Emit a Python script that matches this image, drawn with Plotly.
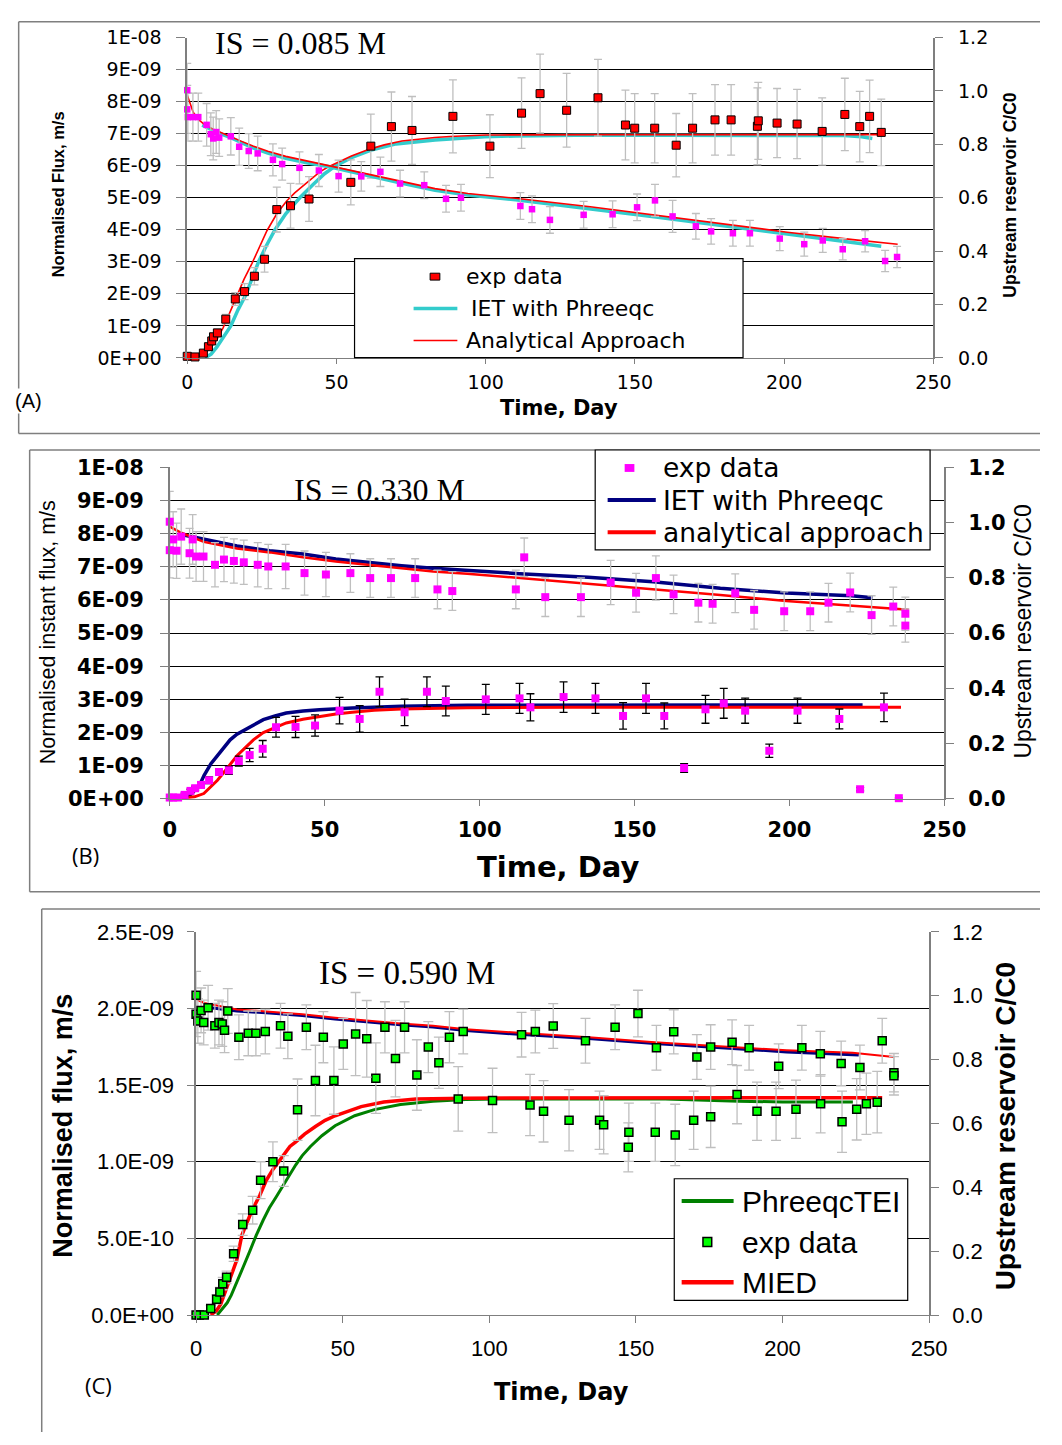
import numpy as np
import plotly.graph_objects as go

W, H = 1062, 1445

# ---------------- Panel A (IS = 0.085 M) ----------------
A_flux_day = [0, 2.6, 5.4, 7.1, 8.2, 8.8, 10.1, 12.9, 16.1, 19.2, 22.5, 25.9, 30.0, 34.6, 40.8, 54.8, 61.5, 68.4, 75.3, 89.0,
              101.4, 112.0, 118.2, 127.1, 137.6, 146.8, 149.9, 156.6, 163.8, 169.3, 176.8, 182.2, 191.0, 191.3, 197.6, 204.3,
              212.7, 220.3, 225.3, 228.6, 232.5]
A_flux_val = [0.05, 0.03, 0.15, 0.35, 0.53, 0.66, 0.78, 1.21, 1.84, 2.07, 2.55, 3.08, 4.63, 4.75, 4.96, 5.48, 6.61, 7.22, 7.10, 7.54,
              6.61, 7.64, 8.25, 7.73, 8.12, 7.27, 7.17, 7.17, 6.64, 7.17, 7.43, 7.43, 7.23, 7.40, 7.33, 7.30,
              7.07, 7.60, 7.22, 7.54, 7.04]
A_flux_err = [0.03, 0.03, 0.05, 0.08, 0.1, 0.1, 0.12, 0.15, 0.2, 0.25, 0.27, 0.4, 0.7, 0.7, 0.7, 0.7, 1.0, 1.08, 1.06, 1.14,
              0.98, 1.1, 1.23, 1.15, 1.2, 1.09, 1.08, 1.08, 0.99, 1.08, 1.1, 1.1, 1.2, 1.2, 1.08, 1.08,
              1.05, 1.13, 1.1, 1.13, 1.04]
A_cc_day = [0, 0, 0.2, 1.9, 3.7, 6.5, 7.9, 8.7, 9.7, 10.7, 14.6, 17.4, 20.6, 23.6, 28.7, 31.8, 37.6, 44.1, 50.7, 58.3,
            64.7, 71.3, 79.4, 86.7, 91.7, 111.6, 115.5, 121.5, 132.8, 142.5, 150.7, 156.7, 162.6, 170.4, 175.5, 182.8,
            188.5, 198.5, 206.7, 212.9, 219.6, 227.1, 233.8, 237.8]
A_cc_val = [1.003, 0.931, 0.902, 0.902, 0.902, 0.873, 0.838, 0.822, 0.846, 0.825, 0.830, 0.791, 0.775, 0.766, 0.742, 0.726,
            0.712, 0.702, 0.681, 0.680, 0.697, 0.653, 0.647, 0.596, 0.600, 0.569, 0.557, 0.517, 0.536, 0.538, 0.564, 0.590,
            0.530, 0.493, 0.474, 0.467, 0.467, 0.447, 0.426, 0.440, 0.407, 0.437, 0.363, 0.378]
A_cc_err = [0.1, 0.09, 0.09, 0.09, 0.09, 0.08, 0.08, 0.08, 0.08, 0.07, 0.07, 0.07, 0.065, 0.065, 0.06, 0.06, 0.06, 0.06, 0.06, 0.055,
            0.055, 0.05, 0.05, 0.05, 0.05, 0.05, 0.05, 0.05, 0.05, 0.05, 0.05, 0.06, 0.06, 0.048, 0.048, 0.048, 0.048, 0.045,
            0.045, 0.045, 0.04, 0.04, 0.04, 0.04]
A_ana_flux_day = [0, 3, 5, 8, 10, 12, 14, 16.8, 19, 21.7, 24, 26.7, 30, 33.3, 36, 38.8, 41.5, 44.3, 47, 49.8, 55, 60.9, 66,
                  71.9, 77, 82.9, 88, 93.9, 100, 105, 120, 140, 160, 180, 200, 220, 233]
A_ana_flux_val = [0, 0.01, 0.07, 0.33, 0.59, 0.94, 1.36, 1.97, 2.45, 2.95, 3.4, 3.97, 4.5, 4.9, 5.15, 5.38, 5.6, 5.8, 5.95,
                  6.08, 6.3, 6.51, 6.65, 6.77, 6.83, 6.88, 6.91, 6.94, 6.96, 6.96, 6.97, 6.97, 6.97, 6.97, 6.97, 6.97, 6.97]
A_iet_flux_day = [6, 8, 10, 12, 14.6, 17, 19.8, 22, 23.9, 26.5, 29.4, 33, 37.7, 42, 46, 49.8, 55, 62, 70, 83, 99.5, 110,
                  130, 160, 190, 220, 226, 229.5]
A_iet_flux_val = [0, 0.12, 0.35, 0.65, 1.0, 1.5, 2.0, 2.55, 3.0, 3.5, 4.0, 4.5, 5.0, 5.4, 5.75, 6.0, 6.25, 6.5, 6.68, 6.8,
                  6.9, 6.93, 6.95, 6.95, 6.95, 6.94, 6.9, 6.85]
A_ana_cc_day = [0, 1, 2, 3.5, 6, 8, 11, 14.6, 18, 22, 27, 33, 40, 47.6, 55, 63, 72, 83, 94, 110, 135, 157, 179, 201, 223, 238]
A_ana_cc_val = [0.985, 0.95, 0.92, 0.895, 0.872, 0.86, 0.845, 0.83, 0.812, 0.794, 0.774, 0.755, 0.738, 0.722, 0.703, 0.682,
                0.66, 0.634, 0.616, 0.598, 0.566, 0.535, 0.503, 0.471, 0.443, 0.426]
A_iet_cc_day = [5, 8, 11, 14.6, 18, 22, 27, 33, 40, 47.6, 55, 63, 72, 83, 94, 110, 135, 157, 179, 201, 223, 232.5]
A_iet_cc_val = [0.872, 0.855, 0.84, 0.825, 0.806, 0.787, 0.767, 0.748, 0.731, 0.716, 0.697, 0.676, 0.654, 0.628, 0.61,
                0.592, 0.559, 0.528, 0.496, 0.464, 0.435, 0.418]

# ---------------- Panel B (IS = 0.330 M) ----------------
B_flux_day = [0, 1.1, 2.7, 4.8, 6.7, 8.2, 10.1, 12.7, 15.9, 19.1, 22.3, 25.8, 30.0, 34.3, 40.6, 46.9, 54.8, 61.3, 67.7, 75.8,
              83.0, 89.1, 102.0, 112.9, 116.4, 127.1, 137.4, 146.3, 153.7, 159.6, 166.0, 172.9, 178.8, 185.7, 193.5, 202.6,
              216.1, 222.8, 230.5, 235.3]
B_flux_val = [0.04, 0.04, 0.04, 0.12, 0.24, 0.32, 0.42, 0.56, 0.81, 0.86, 1.14, 1.32, 1.51, 2.16, 2.17, 2.21, 2.66, 2.41, 3.23,
              2.61, 3.23, 2.95, 3.00, 3.03, 2.76, 3.07, 3.03, 2.50, 3.03, 2.50, 0.93, 2.70, 2.88, 2.66, 1.45, 2.66, 2.41, 0.29,
              2.76, 0.02]
B_flux_err = [0.02, 0.02, 0.02, 0.05, 0.05, 0.06, 0.08, 0.1, 0.1, 0.12, 0.15, 0.2, 0.25, 0.3, 0.32, 0.32, 0.4, 0.4, 0.45, 0.4,
              0.45, 0.45, 0.45, 0.45, 0.41, 0.46, 0.45, 0.4, 0.45, 0.39, 0.13, 0.42, 0.45, 0.38, 0.2, 0.38, 0.3, 0.05, 0.43, 0.0]
B_cc_day = [0, 0, 1.1, 2.2, 3.7, 6.4, 7.4, 8.5, 10.9, 14.6, 17.5, 20.7, 23.9, 28.4, 31.8, 37.4, 43.5, 50.4, 58.3, 64.7,
            71.4, 79.2, 86.4, 91.2, 111.7, 114.4, 121.2, 132.7, 142.3, 150.5, 156.9, 162.6, 170.6, 175.2, 182.5, 188.6,
            198.3, 206.7, 212.6, 219.6, 226.5, 233.5, 237.4, 237.4]
B_cc_val = [1.003, 0.900, 0.939, 0.898, 0.949, 0.889, 0.939, 0.877, 0.877, 0.847, 0.866, 0.861, 0.856, 0.847, 0.841, 0.841,
            0.817, 0.812, 0.817, 0.799, 0.799, 0.799, 0.758, 0.752, 0.758, 0.874, 0.730, 0.730, 0.783, 0.746, 0.799, 0.740,
            0.710, 0.706, 0.744, 0.684, 0.679, 0.679, 0.710, 0.747, 0.665, 0.696, 0.670, 0.627]
B_cc_err = [0.11, 0.1, 0.1, 0.1, 0.1, 0.09, 0.09, 0.09, 0.09, 0.08, 0.08, 0.08, 0.08, 0.08, 0.08, 0.08, 0.08, 0.08, 0.07, 0.07,
            0.07, 0.07, 0.07, 0.07, 0.07, 0.07, 0.07, 0.07, 0.08, 0.07, 0.08, 0.07, 0.07, 0.07, 0.07, 0.07, 0.07, 0.07, 0.07,
            0.07, 0.07, 0.07, 0.06, 0.06]
B_iet_flux_day = [3, 5, 6.9, 8.5, 10.1, 11.1, 13.3, 15.5, 17.5, 19.5, 21.7, 24, 27, 30.2, 34, 37.6, 43, 48.3, 58.9, 74.8, 96,
                  130, 170, 200, 223.6]
B_iet_flux_val = [0, 0.04, 0.14, 0.3, 0.51, 0.71, 1.06, 1.32, 1.55, 1.78, 1.95, 2.07, 2.22, 2.39, 2.5, 2.59, 2.65, 2.69, 2.74,
                  2.79, 2.82, 2.83, 2.83, 2.83, 2.83]
B_ana_flux_day = [2, 5, 8, 11, 13, 15.4, 17.5, 19.6, 21.7, 23.9, 27, 30.2, 34, 37.6, 43, 48.3, 53.6, 58.9, 66, 74.8, 85, 96,
                  130, 170, 200, 236]
B_ana_flux_val = [0, 0.03, 0.06, 0.16, 0.35, 0.56, 0.8, 1.06, 1.3, 1.5, 1.78, 2.0, 2.16, 2.29, 2.4, 2.49, 2.56, 2.61, 2.67,
                  2.71, 2.73, 2.75, 2.76, 2.76, 2.76, 2.76]
B_iet_cc_day = [3.7, 11, 21.7, 32.3, 43, 53.6, 64, 74.8, 85, 96, 113, 135, 156, 177.7, 199, 220, 226.8]
B_iet_cc_val = [0.957, 0.939, 0.915, 0.898, 0.886, 0.868, 0.856, 0.844, 0.835, 0.826, 0.815, 0.802, 0.786, 0.762, 0.745,
                0.735, 0.728]
B_ana_cc_day = [0, 3.7, 11, 21.7, 32.3, 43, 53.6, 64, 74.8, 85, 96, 113, 135, 156, 177.7, 199, 220, 238.5]
B_ana_cc_val = [0.985, 0.963, 0.93, 0.906, 0.892, 0.874, 0.859, 0.847, 0.835, 0.823, 0.815, 0.799, 0.779, 0.761, 0.738,
                0.716, 0.70, 0.684]

# ---------------- Panel C (IS = 0.590 M) ----------------
C_flux_day = [0, 1.1, 2.8, 5.0, 7.0, 8.1, 9.1, 10.4, 12.8, 15.9, 19.3, 22.0, 26.2, 29.9, 34.6, 40.7, 47.0, 61.3, 75.3, 89.4,
              101.1, 113.9, 118.5, 127.2, 137.6, 139.0, 147.4, 147.6, 156.6, 163.4, 169.7, 175.5, 184.5, 191.3, 197.8, 204.6,
              213.0, 220.3, 225.3, 228.6, 232.3]
C_flux_val = [0.0, 0.0, 0.0, 0.043, 0.103, 0.15, 0.205, 0.246, 0.40, 0.59, 0.684, 0.88, 1.00, 0.94, 1.34, 1.53, 1.53, 1.545,
              1.566, 1.41, 1.40, 1.370, 1.329, 1.271, 1.271, 1.241, 1.094, 1.192, 1.192, 1.175, 1.271, 1.293, 1.438, 1.329,
              1.329, 1.342, 1.378, 1.261, 1.342, 1.378, 1.389]
C_flux_err = [0.01, 0.01, 0.01, 0.02, 0.03, 0.03, 0.04, 0.04, 0.05, 0.07, 0.09, 0.12, 0.13, 0.1, 0.2, 0.23, 0.22, 0.23, 0.23,
              0.21, 0.21, 0.2, 0.2, 0.2, 0.19, 0.19, 0.16, 0.19, 0.19, 0.2, 0.19, 0.2, 0.19, 0.19, 0.19, 0.19, 0.19, 0.2, 0.2,
              0.2, 0.2]
C_cc_day = [0, 0, 0.6, 1.7, 2.6, 4.1, 6.4, 7.8, 8.9, 9.7, 10.8, 14.6, 17.8, 20.4, 23.6, 28.8, 31.3, 37.6, 43.4, 50.2,
            54.4, 58.2, 64.4, 68.0, 71.1, 79.2, 82.8, 86.4, 91.1, 111.0, 115.7, 121.8, 132.8, 142.9, 150.7, 157.0, 162.9,
            170.8, 175.5, 182.8, 188.6, 198.7, 206.6, 212.9, 220.0, 226.4, 234.0, 238.0, 238.0]
C_cc_val = [1.001, 0.942, 0.921, 0.954, 0.916, 0.962, 0.906, 0.916, 0.911, 0.892, 0.952, 0.870, 0.882, 0.882, 0.888, 0.906,
            0.873, 0.901, 0.870, 0.849, 0.880, 0.865, 0.901, 0.803, 0.901, 0.839, 0.790, 0.870, 0.888, 0.878, 0.888, 0.905,
            0.859, 0.901, 0.944, 0.837, 0.887, 0.808, 0.839, 0.854, 0.837, 0.779, 0.837, 0.818, 0.788, 0.775, 0.859, 0.759,
            0.749]
C_cc_err = [0.075, 0.07, 0.07, 0.07, 0.07, 0.07, 0.07, 0.07, 0.07, 0.07, 0.07, 0.07, 0.07, 0.07, 0.07, 0.07, 0.07, 0.07,
            0.08, 0.08, 0.13, 0.12, 0.08, 0.12, 0.08, 0.08, 0.08, 0.08, 0.07, 0.07, 0.067, 0.07, 0.07, 0.07, 0.073, 0.07,
            0.069, 0.07, 0.07, 0.07, 0.07, 0.07, 0.07, 0.07, 0.07, 0.07, 0.07, 0.06, 0.06]
C_mied_flux_day = [5, 7, 8.4, 10, 11.7, 13.9, 15.6, 17.2, 19, 21.7, 24, 26.2, 29.5, 32, 34, 37, 40.7, 44, 47.4, 52, 56.3, 64,
                   75, 92, 120, 160, 200, 234]
C_mied_flux_val = [0, 0.03, 0.07, 0.15, 0.25, 0.36, 0.52, 0.6, 0.68, 0.78, 0.88, 0.95, 1.04, 1.1, 1.13, 1.18, 1.23, 1.27,
                   1.3, 1.33, 1.36, 1.39, 1.41, 1.415, 1.417, 1.418, 1.418, 1.418]
C_tei_flux_day = [7.2, 9, 10.6, 12, 13.9, 16, 18.4, 20.5, 22.9, 25, 27.3, 29.5, 31.8, 34, 36.2, 39, 42.9, 47.4, 54.1, 60.8,
                  69.7, 80.8, 92, 103, 130, 160, 185, 200, 215, 224]
C_tei_flux_val = [0, 0.04, 0.08, 0.13, 0.21, 0.31, 0.42, 0.52, 0.62, 0.7, 0.77, 0.84, 0.91, 0.98, 1.04, 1.1, 1.17, 1.235,
                  1.3, 1.34, 1.374, 1.395, 1.406, 1.41, 1.41, 1.41, 1.395, 1.39, 1.39, 1.39]
C_mied_cc_day = [0, 2.8, 8.4, 13.9, 25.1, 36.2, 47.4, 58.5, 69.7, 80.8, 92, 110, 133.9, 156.4, 178.9, 201.4, 223.9, 238]
C_mied_cc_val = [0.988, 0.977, 0.967, 0.957, 0.95, 0.942, 0.931, 0.921, 0.913, 0.906, 0.895, 0.884, 0.870, 0.854, 0.841,
                 0.829, 0.821, 0.808]
C_iet_cc_day = [5, 13.9, 25.1, 36.2, 47.4, 58.5, 69.7, 80.8, 92, 110, 133.9, 156.4, 178.9, 201.4, 226]
C_iet_cc_val = [0.962, 0.952, 0.946, 0.938, 0.927, 0.917, 0.909, 0.902, 0.891, 0.879, 0.866, 0.85, 0.836, 0.824, 0.814]

# Tick labels
A_flux_ticks = ["0E+00", "1E-09", "2E-09", "3E-09", "4E-09", "5E-09", "6E-09", "7E-09", "8E-09", "9E-09", "1E-08"]
C_flux_ticks = ["0.0E+00", "5.0E-10", "1.0E-09", "1.5E-09", "2.0E-09", "2.5E-09"]
day_ticks = [0, 50, 100, 150, 200, 250]
cc_ticks = [0.0, 0.2, 0.4, 0.6, 0.8, 1.0, 1.2]

NANO = 1e-9

# ---------------------------------------------------------------
def px(x):
    return x / W


def py(y):
    return 1 - y / H


fig = go.Figure()

ERRC = '#BFBFBF'
AXC = '#7F7F7F'


def add_line(x, y, xa, ya, color, width):
    fig.add_trace(go.Scatter(x=x, y=y, xaxis=xa, yaxis=ya, mode='lines',
                             line=dict(color=color, width=width), showlegend=False,
                             hoverinfo='skip', cliponaxis=False))


def add_pts(x, y, err, xa, ya, fill, size, olc, olw, errc, capw, symbol='square'):
    fig.add_trace(go.Scatter(x=x, y=y, xaxis=xa, yaxis=ya, mode='markers',
                             marker=dict(symbol=symbol, size=size, color=fill,
                                         line=dict(color=olc, width=olw)),
                             error_y=dict(type='data', array=err, color=errc, thickness=1.3, width=capw),
                             showlegend=False, cliponaxis=False))


def nano(v):
    return list(np.array(v) * NANO)


# Panel A
add_line(A_iet_flux_day, nano(A_iet_flux_val), 'x', 'y', '#33CCCC', 3.5)
add_line(A_ana_flux_day, nano(A_ana_flux_val), 'x', 'y', '#FF0000', 1.6)
add_pts(A_flux_day, nano(A_flux_val), nano(A_flux_err), 'x', 'y', '#FF0000', 8, 'black', 1, ERRC, 4)
add_line(A_iet_cc_day, A_iet_cc_val, 'x', 'y2', '#33CCCC', 3.5)
add_line(A_ana_cc_day, A_ana_cc_val, 'x', 'y2', '#FF0000', 1.6)
add_pts(A_cc_day, A_cc_val, A_cc_err, 'x', 'y2', '#FF00FF', 6.5, '#FF00FF', 0, ERRC, 4)

# Panel B
add_line(B_iet_flux_day, nano(B_iet_flux_val), 'x2', 'y3', '#000080', 3.5)
add_line(B_ana_flux_day, nano(B_ana_flux_val), 'x2', 'y3', '#FF0000', 3)
add_pts(B_flux_day, nano(B_flux_val), nano(B_flux_err), 'x2', 'y3', '#FF00FF', 8, '#FF00FF', 0, 'black', 4)
add_line(B_iet_cc_day, B_iet_cc_val, 'x2', 'y4', '#000080', 3.5)
add_line(B_ana_cc_day, B_ana_cc_val, 'x2', 'y4', '#FF0000', 2.5)
add_pts(B_cc_day, B_cc_val, B_cc_err, 'x2', 'y4', '#FF00FF', 8, '#FF00FF', 0, ERRC, 4)

# Panel C
add_line(C_tei_flux_day, nano(C_tei_flux_val), 'x3', 'y5', '#008000', 3)
add_line(C_mied_flux_day, nano(C_mied_flux_val), 'x3', 'y5', '#FF0000', 3.5)
add_pts(C_flux_day, nano(C_flux_val), nano(C_flux_err), 'x3', 'y5', '#00FF00', 8, 'black', 1.5, ERRC, 5)
add_line(C_iet_cc_day, C_iet_cc_val, 'x3', 'y6', '#000080', 3)
add_line(C_mied_cc_day, C_mied_cc_val, 'x3', 'y6', '#FF0000', 2)
add_pts(C_cc_day, C_cc_val, C_cc_err, 'x3', 'y6', '#00FF00', 8, 'black', 1.5, ERRC, 5)

DJ = 'DejaVu Sans'
AR = 'Liberation Sans, Arial, sans-serif'
TM = 'Liberation Serif, Times New Roman, serif'


def xax(dom, anchor, font, standoff, ticklen):
    return dict(domain=dom, anchor=anchor, range=[0, 250], tickvals=day_ticks, ticks='outside',
                ticklen=ticklen, tickcolor=AXC, tickwidth=1.2, showline=True, linecolor=AXC, linewidth=1.2,
                showgrid=False, zeroline=False, tickfont=font, ticklabelstandoff=standoff, fixedrange=True)


def yleft(dom, anchor, rng, vals, texts, font, standoff, ticklen):
    return dict(domain=dom, anchor=anchor, range=rng, tickvals=vals, ticktext=texts, ticks='outside',
                ticklen=ticklen, tickcolor=AXC, tickwidth=1.2, showline=True, linecolor=AXC, linewidth=1.5,
                showgrid=True, gridcolor='black', gridwidth=1, zeroline=False, tickfont=font,
                ticklabelstandoff=standoff)


def yright(over, anchor, font, standoff, ticklen):
    return dict(overlaying=over, anchor=anchor, side='right', range=[0, 1.2], tickvals=cc_ticks,
                tickformat='.1f', ticks='outside', ticklen=ticklen, tickcolor=AXC, tickwidth=1.2,
                showline=True, linecolor=AXC, linewidth=1.5, showgrid=False, zeroline=False,
                tickfont=font, ticklabelstandoff=standoff)


fA = dict(family=DJ, size=19, color='black')
fB = dict(family=DJ, size=21, color='black', weight='bold')
fC = dict(family=AR, size=22, color='black')

layout = dict(
    width=W, height=H, margin=dict(l=0, r=0, t=0, b=0),
    paper_bgcolor='white', plot_bgcolor='rgba(0,0,0,0)', showlegend=False,
    xaxis=xax([px(185.3), px(952.5)], 'y', fA, 2, 5),
    yaxis=yleft([py(352), py(26)], 'x', [0, 1e-8], [i * NANO for i in range(11)], A_flux_ticks, fA, 11, 9),
    yaxis2=yright('y', 'x', fA, 11, 8),
    xaxis2=xax([px(167.3), px(963.7)], 'y3', fB, 6, 6),
    yaxis3=yleft([py(800.7), py(463.3)], 'x2', [0, 1e-8], [i * NANO for i in range(11)], A_flux_ticks, fB, 12, 8),
    yaxis4=yright('y3', 'x2', fB, 10, 8),
    xaxis3=xax([px(194.4), px(948)], 'y5', fC, 6, 7),
    yaxis5=yleft([py(1326), py(936)], 'x3', [0, 2.5e-9], [i * 0.5 * NANO for i in range(6)], C_flux_ticks, fC, 9, 7),
    yaxis6=yright('y5', 'x3', fC, 9, 8),
)
fig.update_layout(**layout)

shapes = []
ann = []


def rect(x0, y0, x1, y1, line='#7F7F7F', lw=1.5, fill=None, layer='below'):
    shapes.append(dict(type='rect', xref='paper', yref='paper', x0=px(x0), x1=px(x1), y0=py(y1), y1=py(y0),
                       line=dict(color=line, width=lw), fillcolor=fill or 'rgba(0,0,0,0)', layer=layer))


def seg(x0, y0, x1, y1, color, width, layer='above'):
    shapes.append(dict(type='line', xref='paper', yref='paper', x0=px(x0), x1=px(x1), y0=py(y0), y1=py(y1),
                       line=dict(color=color, width=width), layer=layer))


def hline(x0, x1, y, color, width):
    seg(x0, y, x1, y, color, width)


def frame(x0, y0, y1):
    # open frame: top, left, bottom (the right side runs off the picture)
    seg(x0, y0, W, y0, '#7F7F7F', 1.5, 'below')
    seg(x0, y0, x0, min(y1, H), '#7F7F7F', 1.5, 'below')
    if y1 < H:
        seg(x0, y1, W, y1, '#7F7F7F', 1.5, 'below')


def text(t, x, y, size, family, weight='normal', angle=0, xanchor='center', bg=None):
    ann.append(dict(text=t, x=px(x), y=py(y), xref='paper', yref='paper', showarrow=False, xanchor=xanchor,
                    yanchor='middle', textangle=angle, bgcolor=bg,
                    font=dict(size=size, family=family, color='black', weight=weight)))


# panel frames
frame(12, 10, 429)
frame(23.3, 445.7, 895.3)
frame(35.7, 912.7, H)

# Panel A texts
text('IS = 0.085 M', 301.5, 32, 32, TM)
text('(A)', 22, 396, 20, AR, bg='white')
text('Normalised Flux, m/s', 52, 186, 16.5, AR, 'bold', -90)
text('Upstream reservoir C/C0', 1031, 186, 17.5, AR, 'bold', -90)
text('Time, Day', 567, 403, 21, DJ, 'bold')
# Panel A legend
rect(357.3, 251, 756.7, 351.7, line='black', lw=1.2, fill='white', layer='above')
rect(435, 265.8, 445, 272.8, line='black', lw=1, fill='#FF0000', layer='above')
hline(418, 463, 301.7, '#33CCCC', 3.5)
hline(418, 463, 334.3, '#FF0000', 1.6)
text('exp data', 469.5, 269.3, 22, DJ, xanchor='left')
text('IET with Phreeqc', 475, 301.7, 22, DJ, xanchor='left')
text('Analytical Approach', 469.5, 334.3, 22, DJ, xanchor='left')

# Panel B texts
text('IS = 0.330 M', 383, 486, 32, TM)
text('(B)', 80.5, 858, 22, 'Open Sans')
text('Normalised instant flux, m/s', 42.3, 631, 21.5, AR, angle=-90)
text('Upstream reservoir C/C0', 1045, 630, 23, AR, angle=-90)
text('Time, Day', 566, 870, 29, DJ, 'bold')
# Panel B legend
rect(604.7, 445.7, 949, 547.3, line='black', lw=1.2, fill='white', layer='above')
rect(635, 460, 645, 468, line='#FF00FF', lw=0, fill='#FF00FF', layer='above')
hline(617.5, 667, 496.7, '#000080', 4)
hline(617.5, 667, 529.3, '#FF0000', 4)
text('exp data', 672, 464, 26.5, DJ, xanchor='left')
text('IET with Phreeqc', 672, 496.7, 26.5, DJ, xanchor='left')
text('analytical approach', 672, 529.3, 26.5, DJ, xanchor='left')

# Panel C texts
text('IS = 0.590 M', 411, 977.5, 33, TM)
text('(C)', 94, 1397.5, 22, 'Open Sans')
text('Normalised flux, m/s', 58, 1133, 27, AR, 'bold', -90)
text('Upstream reservoir C/C0', 1026, 1134, 28, AR, 'bold', -90)
text('Time, Day', 570.5, 1404, 24, DJ, 'bold')
# Panel C legend
rect(686, 1187.3, 926, 1311, line='black', lw=1.2, fill='white', layer='above')
hline(693.6, 747, 1210, '#008000', 4)
rect(715.5, 1247.2, 724.5, 1256.2, line='black', lw=1.5, fill='#00FF00', layer='above')
hline(693.6, 747, 1292.7, '#FF0000', 4.5)
text('PhreeqcTEI', 753.5, 1210, 30, AR, xanchor='left')
text('exp data', 753.5, 1251.7, 30, AR, xanchor='left')
text('MIED', 753.5, 1292.7, 30, AR, xanchor='left')

fig.update_layout(shapes=shapes, annotations=ann)
fig.write_html('out.html', config={'displayModeBar': False},
               post_script="document.documentElement.style.margin='0';document.body.style.margin='0';"
                           "document.body.style.overflow='hidden';")
